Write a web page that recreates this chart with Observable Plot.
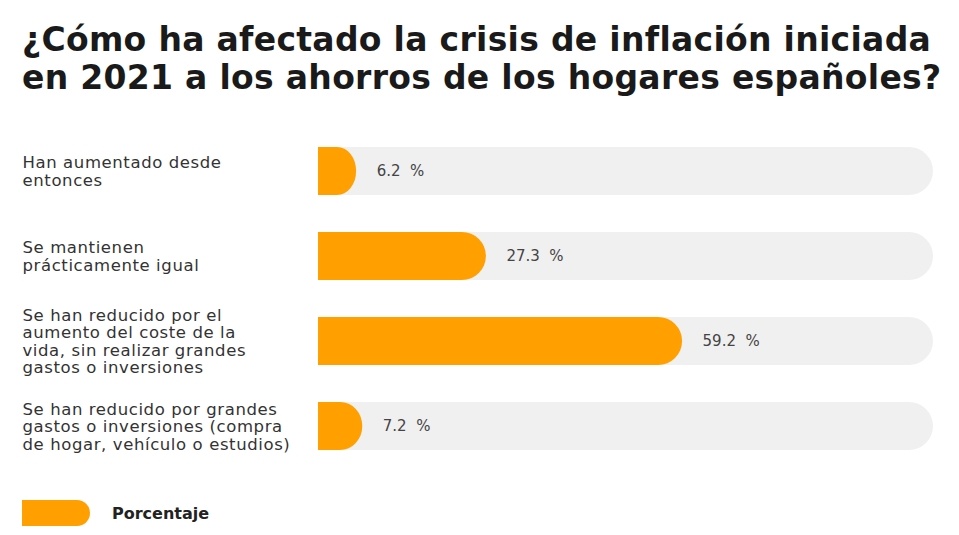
<!DOCTYPE html>
<html>
<head>
<meta charset="utf-8">
<script src="https://cdn.jsdelivr.net/npm/d3@7"></script>
<script src="https://cdn.jsdelivr.net/npm/@observablehq/plot@0.6"></script>
<style>
  html, body { margin: 0; padding: 0; background: #fff; }
  body { width: 959px; height: 535px; overflow: hidden; font-family: "DejaVu Sans", "Open Sans", sans-serif; }
  #title { height: 120px; box-sizing: border-box; padding: 21px 0 0 22px; font-weight: 700; font-size: 33px; line-height: 38px; letter-spacing: 0.3px; color: #1a1a1a; white-space: nowrap; }
  #chart svg { display: block; }
  #legend { display: flex; align-items: center; padding: 15px 0 0 22px; }
  #legend .sw { width: 68px; height: 26px; background: #FFA000; border-radius: 0 13px 13px 0; }
  #legend .lb { margin-left: 22px; font-weight: 700; font-size: 16px; color: #222; }
</style>
</head>
<body>
<div id="title">¿Cómo ha afectado la crisis de inflación iniciada<br>en 2021 a los ahorros de los hogares españoles?</div>
<div id="chart"></div>
<div id="legend"><div class="sw"></div><div class="lb">Porcentaje</div></div>
<script>
const categories = [
  "Han aumentado desde\nentonces",
  "Se mantienen\nprácticamente igual",
  "Se han reducido por el\naumento del coste de la\nvida, sin realizar grandes\ngastos o inversiones",
  "Se han reducido por grandes\ngastos o inversiones (compra\nde hogar, vehículo o estudios)"
];
const values = [6.2, 27.3, 59.2, 7.2];
const seriesName = "Porcentaje";
const maxValue = 100;

const rows = categories.map((c, i) => ({cat: c, value: values[i], total: maxValue}));
const orange = "#FFA000";

const chart = Plot.plot({
  width: 959,
  height: 365,
  marginLeft: 318,
  marginRight: 26,
  marginTop: 25.5,
  marginBottom: 34.2,
  style: {fontFamily: "'DejaVu Sans', 'Open Sans', sans-serif", background: "#fff"},
  x: {domain: [0, maxValue], axis: null},
  y: {domain: categories, paddingInner: 0.44, paddingOuter: 0, label: null},
  marks: [
    Plot.barX(rows, {y: "cat", x1: 0, x2: "total", fill: "#F0F0F0", rx: 24}),
    Plot.barX(rows, {y: "cat", x1: 0, x2: "value", fill: orange, rx: 24}),
    Plot.barX(rows, {y: "cat", x1: 0, x2: d => d.value / 2, fill: orange}),
    Plot.text(rows, {y: "cat", x: "value", text: d => `${d.value}\u00a0 %`, dx: 20, textAnchor: "start", fontSize: 15, fill: "#444"}),
    Plot.axisY({tickSize: 0, tickPadding: 296, textAnchor: "start", fontSize: 16.5, fill: "#333", lineHeight: 1.06, label: null})
  ]
});
chart.querySelectorAll("g[aria-label='y-axis tick label'] text").forEach(t => t.setAttribute("letter-spacing", "0.6"));
document.getElementById("chart").appendChild(chart);
</script>
</body>
</html>
